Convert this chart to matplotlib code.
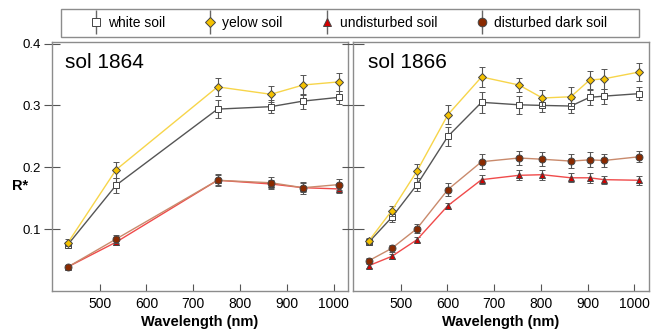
import numpy as np
import matplotlib
matplotlib.use("Agg")
import matplotlib.pyplot as plt
from matplotlib.patches import Rectangle
from matplotlib.container import ErrorbarContainer
from matplotlib.legend_handler import HandlerErrorbar

plt.rcParams['font.family'] = ['Liberation Sans', 'DejaVu Sans']

# sol 1864 (left panel)
wl_1864 = [432, 535, 752, 866, 935, 1011]
white_1864 = [0.075, 0.171, 0.294, 0.298, 0.307, 0.313]
yellow_1864 = [0.078, 0.196, 0.330, 0.318, 0.333, 0.338]
undist_1864 = [0.039, 0.079, 0.179, 0.173, 0.167, 0.165]
dark_1864 = [0.039, 0.084, 0.179, 0.175, 0.167, 0.172]
white_err_1864 = [0.005, 0.012, 0.014, 0.011, 0.012, 0.011]
yellow_err_1864 = [0.006, 0.013, 0.014, 0.013, 0.016, 0.015]
undist_err_1864 = [0.003, 0.005, 0.008, 0.007, 0.007, 0.006]
dark_err_1864 = [0.003, 0.006, 0.010, 0.010, 0.010, 0.009]

# sol 1866 (right panel)
wl_1866 = [432, 481, 535, 601, 673, 753, 803, 864, 904, 935, 1010]
white_1866 = [0.079, 0.119, 0.172, 0.250, 0.305, 0.301, 0.300, 0.299, 0.313, 0.315, 0.319]
yellow_1866 = [0.081, 0.130, 0.194, 0.285, 0.346, 0.333, 0.312, 0.314, 0.341, 0.343, 0.354]
undist_1866 = [0.041, 0.056, 0.083, 0.138, 0.180, 0.187, 0.188, 0.183, 0.183, 0.180, 0.179]
dark_1866 = [0.049, 0.069, 0.101, 0.164, 0.209, 0.215, 0.213, 0.210, 0.212, 0.211, 0.217]
white_err_1866 = [0.004, 0.008, 0.011, 0.015, 0.017, 0.015, 0.010, 0.011, 0.012, 0.012, 0.010]
yellow_err_1866 = [0.005, 0.008, 0.012, 0.015, 0.016, 0.012, 0.013, 0.015, 0.015, 0.016, 0.015]
undist_err_1866 = [0.003, 0.004, 0.004, 0.005, 0.007, 0.008, 0.008, 0.0075, 0.008, 0.0065, 0.0075]
dark_err_1866 = [0.004, 0.006, 0.008, 0.010, 0.012, 0.012, 0.011, 0.011, 0.012, 0.011, 0.009]

labels = ['white soil', 'yelow soil', 'undisturbed soil', 'disturbed dark soil']
line_colors = ['#555555', '#f7d54a', '#f04a4a', '#c98a6c']
face_colors = ['white', '#f5c200', '#d40000', '#8a2a00']
markers = ['s', 'D', '^', 'o']
msizes = [5, 4.2, 5, 5]

panels = [
    ('sol 1864', wl_1864, [white_1864, yellow_1864, undist_1864, dark_1864],
     [white_err_1864, yellow_err_1864, undist_err_1864, dark_err_1864]),
    ('sol 1866', wl_1866, [white_1866, yellow_1866, undist_1866, dark_1866],
     [white_err_1866, yellow_err_1866, undist_err_1866, dark_err_1866]),
]

fig = plt.figure(figsize=(6.6, 3.35), dpi=100)
axes = [fig.add_axes([0.0788, 0.1313, 0.4485, 0.7424]),
        fig.add_axes([0.5348, 0.1313, 0.4485, 0.7424])]

for i, (ax, (title, wl, series, errs)) in enumerate(zip(axes, panels)):
    for k in range(4):
        ax.errorbar(wl, series[k], yerr=errs[k], color=line_colors[k], lw=1.0,
                    marker=markers[k], ms=msizes[k], mfc=face_colors[k],
                    mec='#444444', mew=0.7, ecolor='#555555', elinewidth=0.8,
                    capsize=2.2, capthick=0.8, zorder=2 + k)
    ax.set_xlim(398, 1031)
    ax.set_ylim(0, 0.402)
    ax.set_xticks([500, 600, 700, 800, 900, 1000])
    ax.set_yticks([0.1, 0.2, 0.3, 0.4])
    for s in ax.spines.values():
        s.set_color('#8c8c8c')
        s.set_linewidth(1.0)
    ax.tick_params(axis='x', direction='in', length=5, width=0.8, color='#555555',
                   labelsize=10, pad=4)
    ax.set_xlabel('Wavelength (nm)', fontsize=10.5, fontweight='bold', labelpad=3)
    ax.text(0.044 if i == 0 else 0.05, 0.897, title, transform=ax.transAxes,
            fontsize=15, va='baseline', ha='left')
    if i == 0:
        ax.tick_params(axis='y', direction='inout', length=12, width=0.8,
                       color='#555555', labelsize=9.5, pad=2)
        ax.set_yticklabels(['0.1', '0.2', '0.3', '0.4'])
    else:
        ax.tick_params(axis='y', direction='inout', length=16, width=0.8,
                       color='#555555', labelleft=False)

# legend proxies: marker with a short vertical bar, no connecting line
handles = []
for k in range(4):
    h = axes[0].errorbar([np.nan], [np.nan], yerr=[0.01], ls='none', marker=markers[k],
                         ms=msizes[k] + 1.2, mfc=face_colors[k], mec='#444444',
                         mew=0.7, ecolor='#666666', elinewidth=1.0, capsize=0)
    handles.append(h)

fig.text(20 / 660, 1 - 186 / 335, 'R*', fontsize=10.5, fontweight='bold',
         ha='center', va='center')

leg = fig.legend(handles, labels, loc='center', ncol=4,
                 bbox_to_anchor=(348 / 660, 1 - 22.7 / 335), fontsize=10,
                 frameon=False, handlelength=1.0,
                 handletextpad=0.4, columnspacing=2.7, borderpad=0.5,
                 handler_map={ErrorbarContainer: HandlerErrorbar(xerr_size=0.5, yerr_size=0.85)})

fig.patches.append(Rectangle((61 / 660, 1 - 36.7 / 335), 578 / 660, 28 / 335,
                             transform=fig.transFigure, fill=False,
                             edgecolor='#8c8c8c', linewidth=1.0))

fig.savefig('out.png', dpi=100)
